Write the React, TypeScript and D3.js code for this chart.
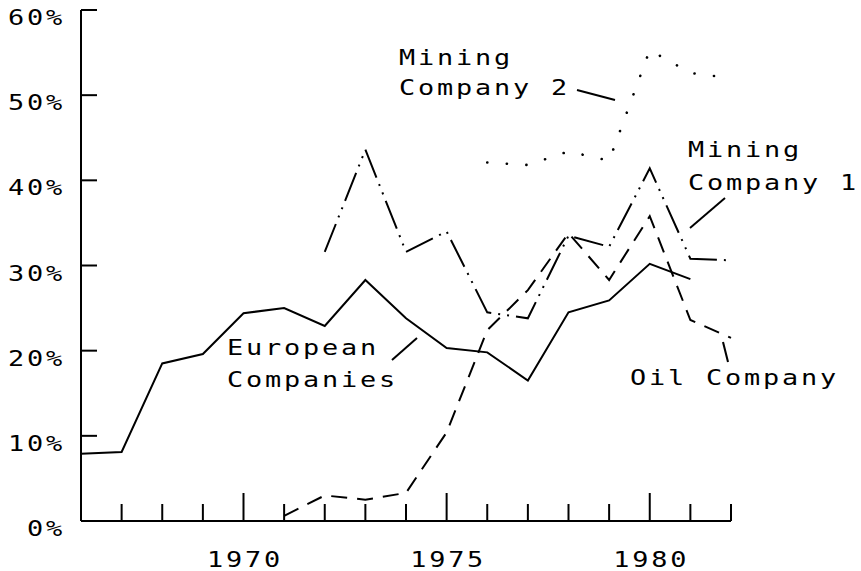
import React from "react";
import * as d3 from "d3";

// ---- data ----
const europeanYears = [1966, 1967, 1968, 1969, 1970, 1971, 1972, 1973, 1974, 1975, 1976, 1977, 1978, 1979, 1980, 1981];
const europeanValues = [7.9, 8.1, 18.5, 19.6, 24.4, 25.0, 22.9, 28.3, 23.8, 20.3, 19.8, 16.5, 24.5, 25.9, 30.2, 28.4];

const mining1Years = [1972, 1973, 1974, 1975, 1976, 1977, 1978, 1979, 1980, 1981, 1982];
const mining1Values = [31.6, 43.6, 31.6, 34.0, 24.5, 23.8, 33.5, 32.2, 41.4, 30.8, 30.6];

const mining2Years = [1976, 1977, 1978, 1979, 1980, 1981, 1982];
const mining2Values = [42.1, 41.8, 43.4, 42.3, 55.3, 52.6, 52.0];

const oilYears = [1971, 1972, 1973, 1974, 1975, 1976, 1977, 1978, 1979, 1980, 1981, 1982];
const oilValues = [0.6, 3.0, 2.5, 3.3, 10.4, 22.4, 27.1, 33.8, 28.3, 35.8, 23.6, 21.5];

const yTickValues = [0, 10, 20, 30, 40, 50, 60];
const xTickYears = [1967, 1968, 1969, 1970, 1971, 1972, 1973, 1974, 1975, 1976, 1977, 1978, 1979, 1980, 1981, 1982];
const xLabelYears = [1970, 1975, 1980];

const W = 861;
const H = 571;
const FONT = "'DejaVu Sans Mono', monospace";
const FS = 21;
const SX = 1.28; // horizontal stretch to mimic the wide stencil lettering
const LS = 2.2; // letter spacing in local (unscaled) units

type LabelProps = { x: number; y: number; anchor?: "start" | "middle" | "end"; children: React.ReactNode };

function Label({ x, y, anchor = "start", children }: LabelProps) {
  return (
    <text
      transform={`translate(${x},${y}) scale(${SX},1)`}
      textAnchor={anchor}
      style={{ fontFamily: FONT, fontSize: FS, letterSpacing: `${LS}px` }}
      fill="#000"
    >
      {children}
    </text>
  );
}

export default function App() {
  const x = d3.scaleLinear().domain([1966, 1982]).range([81, 731]);
  const y = d3.scaleLinear().domain([0, 60]).range([521, 10]);

  const line = d3
    .line<[number, number]>()
    .x((d) => x(d[0]))
    .y((d) => y(d[1]));

  const zip = (ys: number[], vs: number[]) => ys.map((yr, i) => [yr, vs[i]] as [number, number]);

  const x0 = x(1966);
  const x1 = x(1982);

  return (
    <svg
      width={W}
      height={H}
      viewBox={`0 0 ${W} ${H}`}
      style={{ position: "absolute", left: 0, top: 0, background: "#fff" }}
    >
      <g stroke="#000" strokeWidth={2} fill="none" strokeLinecap="butt">
        {/* axes */}
        <line x1={x0} y1={y(0)} x2={x0} y2={y(60)} />
        <line x1={x0} y1={y(0)} x2={x1} y2={y(0)} />
        {yTickValues
          .filter((v) => v > 0)
          .map((v) => (
            <line key={"yt" + v} x1={x0} y1={y(v)} x2={x0 + 16} y2={y(v)} />
          ))}
        {xTickYears.map((yr) => (
          <line
            key={"xt" + yr}
            x1={x(yr)}
            y1={y(0)}
            x2={x(yr)}
            y2={y(0) - (xLabelYears.includes(yr) ? 28 : 17)}
          />
        ))}

        {/* series */}
        <path d={line(zip(europeanYears, europeanValues)) || ""} strokeLinejoin="miter" />
        <path d={line(zip(mining1Years, mining1Values)) || ""} strokeDasharray="30,7,2,7,2,7" />
        <path
          d={line(zip(mining2Years, mining2Values)) || ""}
          strokeWidth={2.6}
          strokeLinecap="round"
          strokeDasharray="0.1,19.5"
        />
        <path d={line(zip(oilYears, oilValues)) || ""} strokeDasharray="16,10" />

        {/* leader lines */}
        <line x1={577} y1={90} x2={615} y2={100} />
        <line x1={725} y1={198} x2={690} y2={228} />
        <line x1={417} y1={338} x2={392} y2={360} />
        <line x1={723} y1={342} x2={728} y2={362} />
      </g>

      <g>
        {yTickValues.map((v) => (
          <Label key={"yl" + v} x={65} y={y(v) + 15} anchor="end">
            {v}%
          </Label>
        ))}
        {xLabelYears.map((yr) => (
          <Label key={"xl" + yr} x={x(yr) + 1.5} y={567} anchor="middle">
            {yr}
          </Label>
        ))}

        <Label x={399} y={65}>Mining</Label>
        <Label x={399} y={95}>Company 2</Label>
        <Label x={688} y={157}>Mining</Label>
        <Label x={688} y={190}>Company 1</Label>
        <Label x={227} y={355}>European</Label>
        <Label x={227} y={387}>Companies</Label>
        <Label x={630} y={385}>Oil Company</Label>
      </g>
    </svg>
  );
}
